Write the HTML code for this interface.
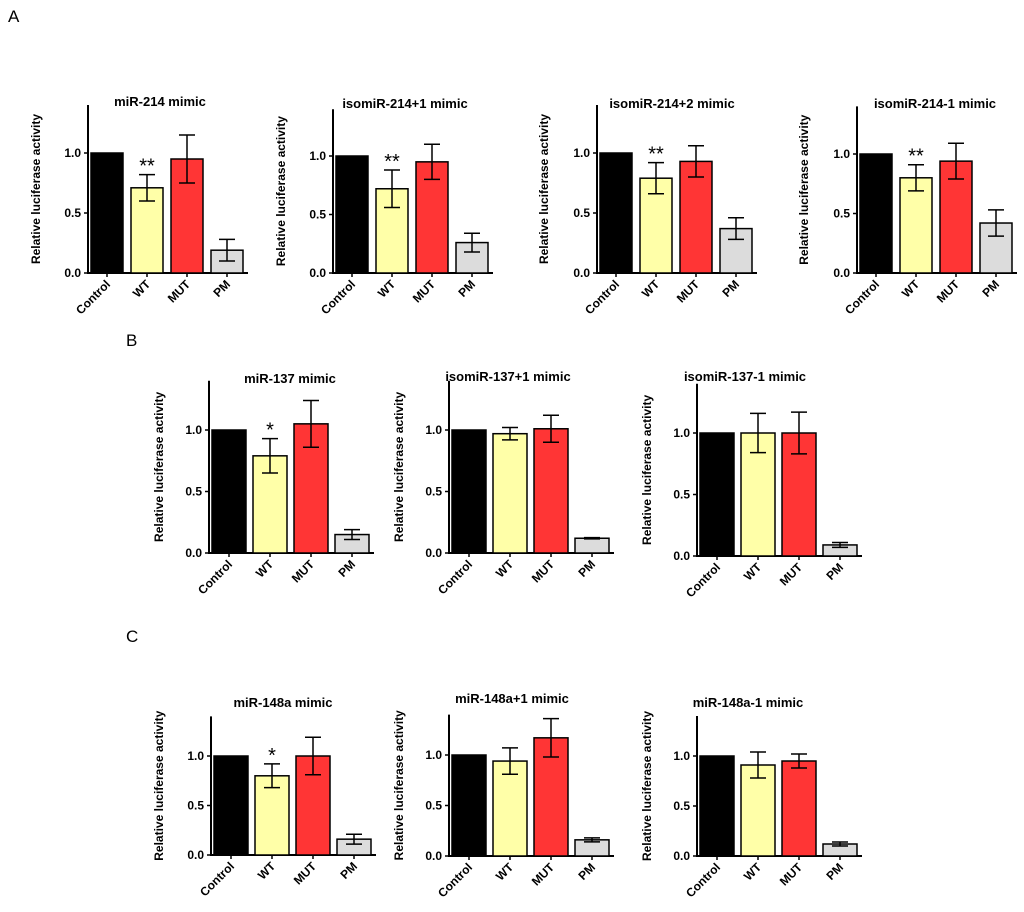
<!DOCTYPE html>
<html><head><meta charset="utf-8"><style>
body{margin:0;background:#fff;}
svg{display:block;font-family:"Liberation Sans",Arial,sans-serif;}
</style></head><body>
<svg id="fig" width="1024" height="912" viewBox="0 0 1024 912">
<text x="8" y="22" font-size="17">A</text>
<text x="126" y="346" font-size="17">B</text>
<text x="126" y="642" font-size="17">C</text>
</svg>
<script>
const categories = ["Control","WT","MUT","PM"];
const colors = ["#000000","#ffffa8","#ff3535","#dcdcdc"];
const yTicks = [0,0.5,1.0];
const yTickLabels = ["0.0","0.5","1.0"];
const titles = ["miR-214 mimic","isomiR-214+1 mimic","isomiR-214+2 mimic","isomiR-214-1 mimic","miR-137 mimic","isomiR-137+1 mimic","isomiR-137-1 mimic","miR-148a mimic","miR-148a+1 mimic","miR-148a-1 mimic"];
const means = [
 [1,0.71,0.95,0.19],[1,0.72,0.95,0.26],[1,0.79,0.93,0.37],[1,0.80,0.94,0.42],
 [1,0.79,1.05,0.15],[1,0.97,1.01,0.12],[1,1.00,1.00,0.09],
 [1,0.80,1.00,0.16],[1,0.94,1.17,0.16],[1,0.91,0.95,0.12]];
const errors = [
 [0,0.11,0.20,0.09],[0,0.16,0.15,0.08],[0,0.13,0.13,0.09],[0,0.11,0.15,0.11],
 [0,0.14,0.19,0.04],[0,0.05,0.11,0.005],[0,0.16,0.17,0.02],
 [0,0.12,0.19,0.05],[0,0.13,0.19,0.02],[0,0.13,0.07,0.02]];
const stars = ["**","**","**","**","*","","","*","",""];
const yMax = 1.4;
const layout = [
 [88,273,153,32,40,160,106,40],[333,273,156,32,40,405,108,285],[597,273,153,32,40,672,108,548],[857,273,154,32,40,935,108,808],
 [209,553,430,34,41,290,383,163],[449,553,430,34,41,508,381,403],[697,556,433,34,41,745,381,651],
 [211,855,756,34,41,283,707,163],[449,856,755,34,41,512,703,403],[697,856,756,34,41,748,707,651]];
const svg=document.getElementById('fig');
const NS="http://www.w3.org/2000/svg";
function mk(tag,attrs,parent){const e=document.createElementNS(NS,tag);for(const k in attrs)e.setAttribute(k,attrs[k]);(parent||svg).appendChild(e);return e;}
layout.forEach((L,p)=>{
 const [ax,y0,y1,bw,step,tx,ty,ylx]=L;
 const ys=v=>y0-v*(y0-y1);
 const g=mk('g',{});
 
 
 const t=mk('text',{x:tx,y:ty,'font-size':13,'font-weight':'bold','text-anchor':'middle'},g);
 t.textContent=titles[p];
 
 
 const top=ys(yMax);
 const xEnd=ax+3+3*step+bw+5;
 const ya=mk('line',{x1:ax,y1:top,x2:ax,y2:y0+1,stroke:'#000','stroke-width':2},g);
 
 
 const xa=mk('line',{x1:ax-1,y1:y0,x2:xEnd,y2:y0,stroke:'#000','stroke-width':2},g);
 
 
 yTicks.forEach((v,i)=>{
  mk('line',{x1:ax-4,y1:ys(v),x2:ax,y2:ys(v),stroke:'#000','stroke-width':1.5},g);
  const tl=mk('text',{x:ax-7,y:ys(v)+4,'font-size':12,'font-weight':'bold','text-anchor':'end'},g);
  tl.textContent=yTickLabels[i];
  
  
 });
 const cy=(y0+top)/2;
 const yl=mk('text',{x:ylx,y:cy,'font-size':12,'font-weight':'bold','text-anchor':'middle',transform:`rotate(-90 ${ylx} ${cy})`},g);
 yl.textContent='Relative luciferase activity';
 
 
 categories.forEach((c,i)=>{
  const x=ax+3+i*step, cx=x+bw/2, v=means[p][i], e=errors[p][i];
  const b=mk('rect',{x:x,y:ys(v),width:bw,height:y0-ys(v),fill:colors[i],stroke:'#000','stroke-width':1.5},g);
  
  
  if(e>0){
   const eb=mk('path',{d:`M${cx} ${ys(v+e)}V${ys(v-e)}M${cx-8} ${ys(v+e)}H${cx+8}M${cx-8} ${ys(v-e)}H${cx+8}`,stroke:'#000','stroke-width':1.5,fill:'none'},g);
   
   
  }
  if(i===1&&stars[p]){
   const s=mk('text',{x:cx,y:ys(v+e)-2,'font-size':20,'text-anchor':'middle'},g);
   s.textContent=stars[p];
   
   
  }
  mk('line',{x1:cx,y1:y0,x2:cx,y2:y0+4,stroke:'#000','stroke-width':1.5},g);
  const lx=cx+4, lyy=y0+12;
  const xl=mk('text',{x:lx,y:lyy,'font-size':12,'font-weight':'bold','text-anchor':'end',transform:`rotate(-45 ${lx} ${lyy})`},g);
  xl.textContent=c;
  
  
 });
});
</script>
</body></html>
